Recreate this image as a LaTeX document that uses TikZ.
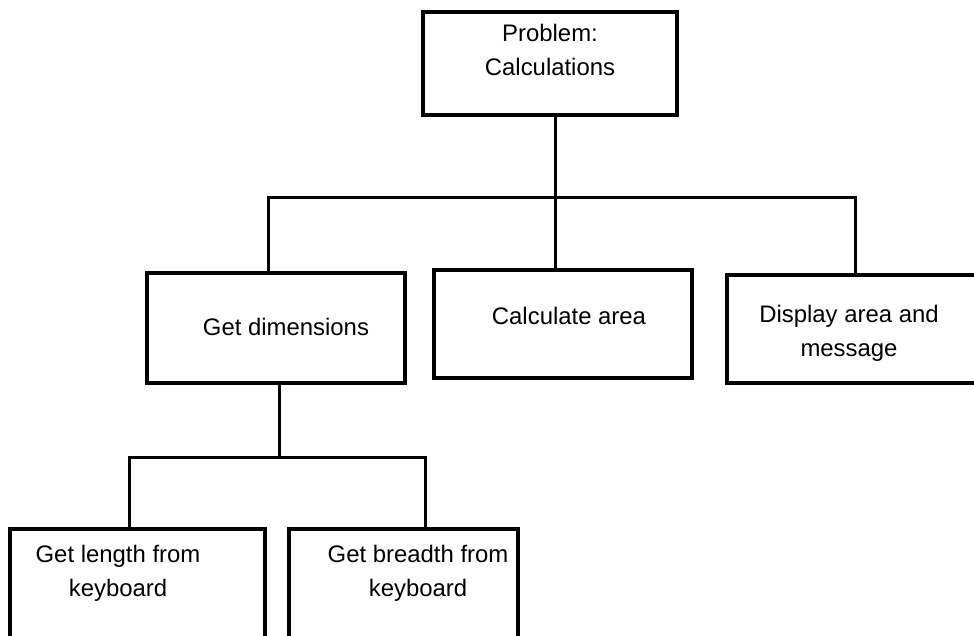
\documentclass[tikz,border=0pt]{standalone}
\usepackage{fontspec}
\setmainfont{Liberation Sans}
\usetikzlibrary{calc}

\begin{document}
\begin{tikzpicture}
    [x=1pt, y=-1pt,
     font=\fontsize{23.9}{34}\selectfont,
     box/.style={draw, line width=4.7pt, inner sep=0pt},
     link/.style={line width=3pt},
     txt/.style={align=center, inner sep=0pt},
    ]
    \useasboundingbox (0,0) rectangle (974,635);

    % Boxes
    \foreach \nm / \cx / \cy / \w / \h in
             {top/550/63.5/254/103, dims/276/328/258/110,
              calc/563/324/258/108, disp/858.5/329/263/108,
              len/137.5/589.5/255/121, bre/403.5/589.5/229/121} {
        \node[box, minimum width=\w pt, minimum height=\h pt] (\nm) at (\cx, \cy) {};
    }

    % Labels
    \foreach \nm / \tx / \ty / \txt in
             {top/550/49.5/{Problem:\\Calculations},
              dims/286/327/{Get dimensions},
              calc/569/316/{Calculate area},
              disp/849/333/{Display area and\\message},
              len/118/573.5/{Get length from\\keyboard},
              bre/418/573.5/{Get breadth from\\keyboard}} {
        \node[txt] (\nm-txt) at (\tx, \ty) {\txt};
    }

    % First level
    \coordinate (j1) at (555, 197);
    \coordinate (b1l) at (268, 197);
    \coordinate (b1r) at (855, 197);
    \draw[link] ([xshift=5pt]top.south) -- (j1);
    \draw[link] (b1l |- dims.north) -- (b1l) -- (b1r) -- (b1r |- disp.north);
    \draw[link] (j1) -- (j1 |- calc.north);

    % Second level
    \coordinate (j2) at (279, 457);
    \coordinate (b2l) at (129, 457);
    \coordinate (b2r) at (425, 457);
    \draw[link] (dims.south -| j2) -- (j2);
    \draw[link] (b2l |- len.north) -- (b2l) -- (b2r) -- (b2r |- bre.north);
\end{tikzpicture}
\end{document}
